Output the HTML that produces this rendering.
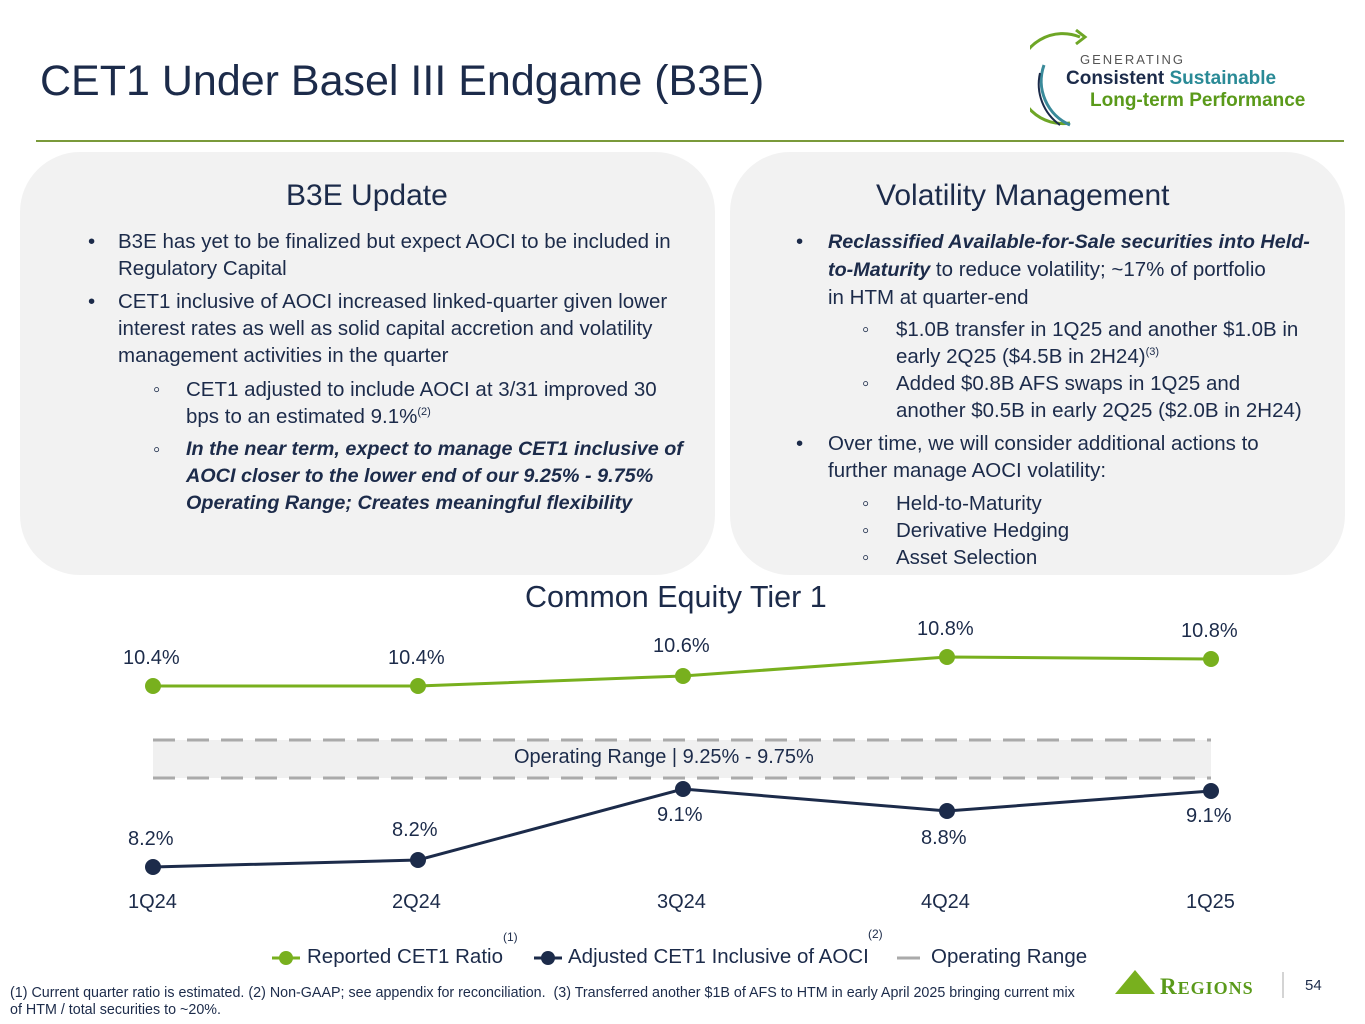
<!DOCTYPE html>
<html><head><meta charset="utf-8"><style>
body{margin:0;width:1365px;height:1024px;background:#fff;position:relative;overflow:hidden;font-family:"Liberation Sans",sans-serif;color:#1c2b4a}
.a{position:absolute;white-space:nowrap}
.box{position:absolute;background:#f2f2f2;border-radius:60px}
.h{font-size:30px;color:#1c2b4a}
.t{font-size:20.5px;line-height:27px;color:#1c2b4a}
.tb{font-size:19.8px}
b i,i b{font-weight:bold;font-style:italic}
sup{font-size:11px;line-height:0}
.c{font-size:20px}
</style></head><body>
<div class="a" style="left:40px;top:57px;font-size:43px;color:#1c2b4a">CET1 Under Basel III Endgame (B3E)</div>
<div style="position:absolute;left:36px;top:140px;width:1308px;height:2px;background:#7a9a3a"></div>
<svg class="a" style="left:1030px;top:25px" width="60" height="105"><path d="M50 12 A45 45 0 1 0 40 98" fill="none" stroke="#6ea626" stroke-width="3"/><path d="M46 5 L55 12 L46 19" fill="none" stroke="#6ea626" stroke-width="3"/><path d="M14 40 A48 48 0 0 0 40 100" fill="none" stroke="#3a8a9a" stroke-width="3"/><path d="M10 48 A50 50 0 0 0 30 100" fill="none" stroke="#1c2b4a" stroke-width="2"/></svg>
<div class="a" style="left:1080px;top:52px;font-size:13px;letter-spacing:2px;color:#555">GENERATING</div>
<div class="a" style="left:1066px;top:68px;font-size:19px;font-weight:bold;color:#1c2b4a">Consistent <span style="color:#2a8a96">Sustainable</span></div>
<div class="a" style="left:1090px;top:90px;font-size:19px;font-weight:bold;color:#5a9a1a">Long-term Performance</div>

<div class="box" style="left:20px;top:152px;width:695px;height:423px"></div>
<div class="box" style="left:730px;top:152px;width:615px;height:423px"></div>
<div class="a h" style="left:286px;top:179px">B3E Update</div>
<div class="a h" style="left:876px;top:179px">Volatility Management</div>

<div class="a t" style="left:88px;top:228px">•</div>
<div class="a t" style="left:118px;top:228px">B3E has yet to be finalized but expect AOCI to be included in<br>Regulatory Capital</div>
<div class="a t" style="left:88px;top:288px">•</div>
<div class="a t" style="left:118px;top:288px">CET1 inclusive of AOCI increased linked-quarter given lower<br>interest rates as well as solid capital accretion and volatility<br>management activities in the quarter</div>
<div class="a t" style="left:153px;top:376px">◦</div>
<div class="a t" style="left:186px;top:376px">CET1 adjusted to include AOCI at 3/31 improved 30<br>bps to an estimated 9.1%<sup>(2)</sup></div>
<div class="a t" style="left:153px;top:436px">◦</div>
<div class="a t tb" style="left:186px;top:436px;font-weight:bold;font-style:italic">In the near term, expect to manage CET1 inclusive of<br>AOCI closer to the lower end of our 9.25% - 9.75%<br>Operating Range; Creates meaningful flexibility</div>

<div class="a t" style="left:796px;top:228px">•</div>
<div class="a t" style="left:828px;top:228px"><b><i class="tb">Reclassified Available-for-Sale securities into Held-<br>to-Maturity</i></b> to reduce volatility; ~17% of portfolio<br>in HTM at quarter-end</div>
<div class="a t" style="left:862px;top:316px">◦</div>
<div class="a t" style="left:896px;top:316px">$1.0B transfer in 1Q25 and another $1.0B in<br>early 2Q25 ($4.5B in 2H24)<sup>(3)</sup></div>
<div class="a t" style="left:862px;top:370px">◦</div>
<div class="a t" style="left:896px;top:370px">Added $0.8B AFS swaps in 1Q25 and<br>another $0.5B in early 2Q25 ($2.0B in 2H24)</div>
<div class="a t" style="left:796px;top:430px">•</div>
<div class="a t" style="left:828px;top:430px">Over time, we will consider additional actions to<br>further manage AOCI volatility:</div>
<div class="a t" style="left:862px;top:490px">◦<br>◦<br>◦</div>
<div class="a t" style="left:896px;top:490px">Held-to-Maturity<br>Derivative Hedging<br>Asset Selection</div>

<div class="a" style="left:525px;top:580px;font-size:30.5px">Common Equity Tier 1</div>
<svg class="a" style="left:0;top:0" width="1365" height="1024">
<rect x="153" y="740" width="1058" height="38" fill="#f0f0f0"/>
<line x1="153" y1="740" x2="1211" y2="740" stroke="#aaa" stroke-width="3" stroke-dasharray="22,12"/>
<line x1="153" y1="778" x2="1211" y2="778" stroke="#aaa" stroke-width="3" stroke-dasharray="22,12"/>
<polyline points="153,686 418,686 683,676 947,657 1211,659" fill="none" stroke="#78b01e" stroke-width="3"/>
<polyline points="153,867 418,860 683,789 947,811 1211,791" fill="none" stroke="#1c2b4a" stroke-width="3"/>
<g fill="#78b01e"><circle cx="153" cy="686" r="8"/><circle cx="418" cy="686" r="8"/><circle cx="683" cy="676" r="8"/><circle cx="947" cy="657" r="8"/><circle cx="1211" cy="659" r="8"/></g>
<g fill="#1c2b4a"><circle cx="153" cy="867" r="8"/><circle cx="418" cy="860" r="8"/><circle cx="683" cy="789" r="8"/><circle cx="947" cy="811" r="8"/><circle cx="1211" cy="791" r="8"/></g>
<line x1="272" y1="958" x2="300" y2="958" stroke="#78b01e" stroke-width="3"/><circle cx="286" cy="958" r="7" fill="#78b01e"/>
<line x1="534" y1="958" x2="562" y2="958" stroke="#1c2b4a" stroke-width="3"/><circle cx="548" cy="958" r="7" fill="#1c2b4a"/>
<line x1="897" y1="958" x2="920" y2="958" stroke="#aaa" stroke-width="3"/>
<polygon points="1115,994 1135,970 1155,994" fill="#78b01e"/>
<line x1="1283" y1="972" x2="1283" y2="998" stroke="#aaa" stroke-width="1"/>
</svg>
<div class="a c" style="left:514px;top:746px">Operating Range | 9.25% - 9.75%</div>
<div class="a c" style="left:123px;top:647px">10.4%</div>
<div class="a c" style="left:388px;top:647px">10.4%</div>
<div class="a c" style="left:653px;top:635px">10.6%</div>
<div class="a c" style="left:917px;top:618px">10.8%</div>
<div class="a c" style="left:1181px;top:620px">10.8%</div>
<div class="a c" style="left:128px;top:828px">8.2%</div>
<div class="a c" style="left:392px;top:819px">8.2%</div>
<div class="a c" style="left:657px;top:804px">9.1%</div>
<div class="a c" style="left:921px;top:827px">8.8%</div>
<div class="a c" style="left:1186px;top:805px">9.1%</div>
<div class="a c" style="left:128px;top:891px">1Q24</div>
<div class="a c" style="left:392px;top:891px">2Q24</div>
<div class="a c" style="left:657px;top:891px">3Q24</div>
<div class="a c" style="left:921px;top:891px">4Q24</div>
<div class="a c" style="left:1186px;top:891px">1Q25</div>
<div class="a" style="font-size:12px;left:503px;top:930px">(1)</div>
<div class="a" style="font-size:12px;left:868px;top:927px">(2)</div>
<div class="a" style="font-size:20.5px;left:307px;top:945px">Reported CET1 Ratio</div>
<div class="a" style="font-size:20.5px;left:568px;top:945px">Adjusted CET1 Inclusive of AOCI</div>
<div class="a" style="font-size:20.5px;left:931px;top:945px">Operating Range</div>
<div class="a" style="left:10px;top:985px;font-size:14.3px;line-height:17px">(1) Current quarter ratio is estimated. (2) Non-GAAP; see appendix for reconciliation.&nbsp; (3) Transferred another $1B of AFS to HTM in early April 2025 bringing current mix<br>of HTM / total securities to ~20%.</div>
<div class="a" style="left:1160px;top:974px;font-size:23px;font-family:'Liberation Serif',serif;font-weight:bold;color:#5a9a1a;letter-spacing:1px">R<span style="font-size:18px">EGIONS</span></div>
<div class="a" style="left:1305px;top:977px;font-size:15px">54</div>
</body></html>
